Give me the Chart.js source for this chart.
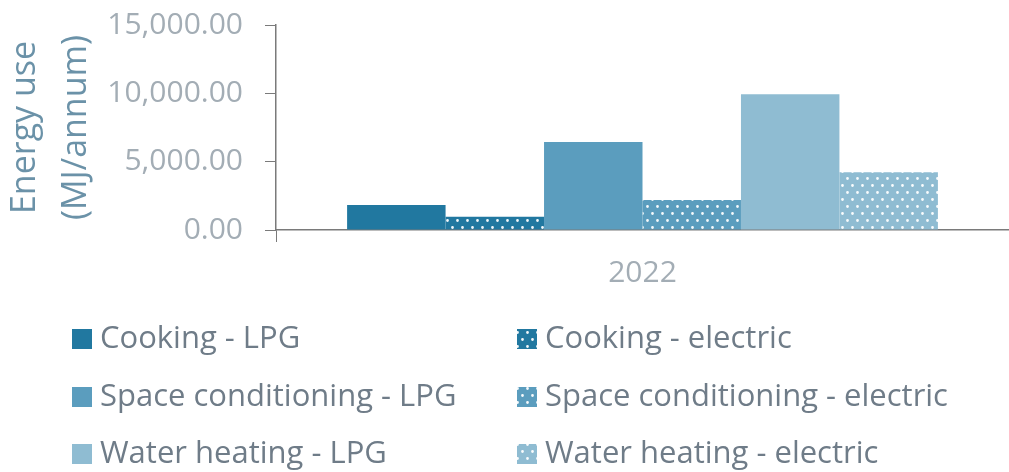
<!DOCTYPE html>
<html>
<head>
<meta charset="utf-8">
<script src="https://cdn.jsdelivr.net/npm/chart.js@4"></script>
<style>
  html, body { margin: 0; padding: 0; background: #fff; }
  #chart-wrapper { width: 1009px; height: 472px; }
</style>
</head>
<body>
<div id="chart-wrapper">
    <canvas id="energyChart" width="1009" height="472"></canvas>
</div>
<script>
    var categories = ['2022'];
    var seriesNames = [
        'Cooking - LPG',
        'Cooking - electric',
        'Space conditioning - LPG',
        'Space conditioning - electric',
        'Water heating - LPG',
        'Water heating - electric'
    ];
    var seriesValues = [
        [1830],
        [970],
        [6440],
        [2190],
        [9930],
        [4230]
    ];
    var yTicks = [0, 5000, 10000, 15000];

    var baseColors = ['#2178a0', '#2178a0', '#5b9dbe', '#5b9dbe', '#8fbcd2', '#8fbcd2'];
    var dotted = [false, true, false, true, false, true];

    // white dot pattern for the electric series
    function dotPattern(color) {
        var c = document.createElement('canvas');
        c.width = 10;
        c.height = 14;
        var ctx = c.getContext('2d');
        ctx.fillStyle = color;
        ctx.fillRect(0, 0, 10, 14);
        ctx.fillStyle = 'rgba(255,255,255,0.95)';
        ctx.beginPath();
        ctx.arc(2.5, 3.5, 1.4, 0, Math.PI * 2);
        ctx.arc(7.5, 10.5, 1.4, 0, Math.PI * 2);
        ctx.fill();
        return document.createElement('canvas').getContext('2d').createPattern(c, 'repeat');
    }

    var fills = baseColors.map(function (col, i) {
        return dotted[i] ? dotPattern(col) : col;
    });

    function formatNumber(num) {
        return num.toFixed(2).replace(/(\d)(?=(\d{3})+(?!\d))/g, '$1,');
    }

    /*
     * legend drawn in two columns, row by row
     */
    var gridLegend = {
        id: 'gridLegend',
        afterDraw: function (chart) {
            var ctx = chart.ctx;
            var colX = [72, 517];
            var rowY = [339, 397, 454];
            ctx.save();
            ctx.font = '31px "Open Sans"';
            ctx.textBaseline = 'middle';
            ctx.textAlign = 'left';
            chart.data.datasets.forEach(function (ds, i) {
                var x = colX[i % 2];
                var y = rowY[Math.floor(i / 2)];
                ctx.fillStyle = ds.backgroundColor;
                ctx.fillRect(x, y - 10, 20, 20);
                ctx.fillStyle = '#6f7c88';
                ctx.fillText(ds.label, x + 28, y);
            });
            ctx.restore();
        }
    };

    var chart = new Chart('energyChart', {
        type: 'bar',
        data: {
            labels: categories,
            datasets: seriesNames.map(function (name, i) {
                return {
                    label: name,
                    data: seriesValues[i],
                    backgroundColor: fills[i],
                    borderWidth: 0,
                    categoryPercentage: 0.806,
                    barPercentage: 1
                };
            })
        },
        options: {
            responsive: false,
            animation: false,
            layout: {
                padding: { top: 25, right: 0, bottom: 0, left: 0 }
            },
            plugins: {
                legend: { display: false },
                tooltip: { enabled: false }
            },
            scales: {
                x: {
                    afterFit: function (scale) {
                        scale.height = 242;
                        scale.paddingLeft = 0;
                        scale.paddingRight = 0;
                    },
                    grid: {
                        offset: true,
                        drawOnChartArea: false,
                        drawTicks: true,
                        tickLength: 12,
                        color: function (c) { return c.index === 0 ? '#7a7a7a' : 'rgba(0,0,0,0)'; }
                    },
                    border: { color: '#7a7a7a', width: 1.5 },
                    ticks: {
                        padding: 13,
                        color: '#a3adb5',
                        font: { family: 'Open Sans', size: 30 }
                    }
                },
                y: {
                    min: 0,
                    max: 15000,
                    afterFit: function (scale) {
                        scale.width = 276;
                        scale.paddingTop = 0;
                        scale.paddingBottom = 0;
                    },
                    afterBuildTicks: function (scale) {
                        scale.ticks = yTicks.map(function (v) { return { value: v }; });
                    },
                    grid: {
                        drawOnChartArea: false,
                        drawTicks: true,
                        tickLength: 11,
                        color: '#7a7a7a'
                    },
                    border: { color: '#7a7a7a', width: 1.5 },
                    ticks: {
                        padding: 22,
                        color: '#a3adb5',
                        font: { family: 'Open Sans', size: 30 },
                        callback: function (v) { return formatNumber(v); }
                    },
                    title: {
                        display: true,
                        text: ['Energy use', '(MJ/annum)'],
                        color: '#6b92a8',
                        font: { family: 'Open Sans', size: 34, lineHeight: 1.5 },
                        padding: 0
                    }
                }
            }
        },
        plugins: [gridLegend]
    });
</script>
</body>
</html>
